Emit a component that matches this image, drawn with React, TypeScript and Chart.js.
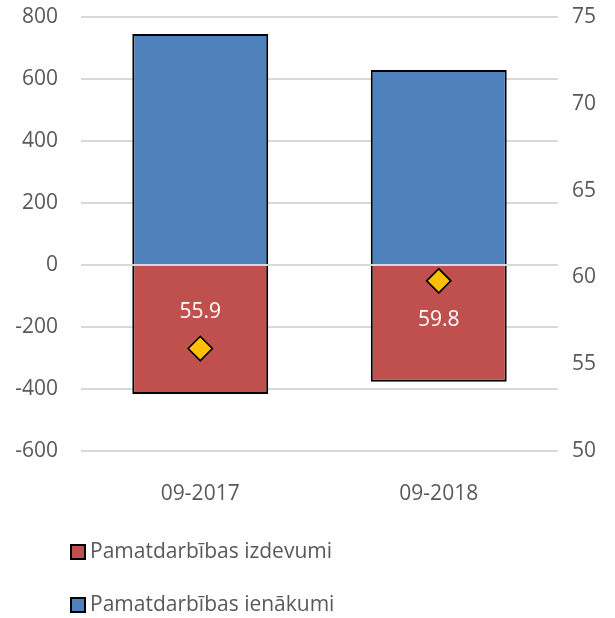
import React, { useEffect, useRef } from "react";
import { Chart, registerables } from "chart.js";

Chart.register(...registerables);

const categories = ["09-2017", "09-2018"];
const incomeLabel = "Pamatdarbības ienākumi";
const expensesLabel = "Pamatdarbības izdevumi";
const income = [745, 629];
const expenses = [-416, -377];
const ratio = [55.9, 59.8];
const leftAxis = { min: -600, max: 800, step: 200 };
const rightAxis = { min: 50, max: 75, step: 5 };

const FONT = "'Open Sans', sans-serif";
const FS = 21;
const TEXT = "#595959";
const GRID = "#D9D9D9";

const zeroLinePlugin = {
  id: "zeroLine",
  afterDatasetsDraw(chart: any) {
    const y = chart.scales.y.getPixelForValue(0);
    const { left, right } = chart.chartArea;
    const ctx = chart.ctx;
    ctx.save();
    ctx.strokeStyle = GRID;
    ctx.lineWidth = 2;
    ctx.beginPath();
    ctx.moveTo(left, y);
    ctx.lineTo(right, y);
    ctx.stroke();
    const lineIdx = chart.data.datasets.findIndex((d: any) => d.type === "line");
    if (lineIdx >= 0) {
      chart.getDatasetMeta(lineIdx).data.forEach((pt: any) => pt.draw(ctx, chart.chartArea));
    }
    ctx.restore();
  },
};

const valueLabelPlugin = {
  id: "valueLabels",
  afterDatasetsDraw(chart: any) {
    const ctx = chart.ctx;
    const lineIdx = chart.data.datasets.findIndex((d: any) => d.type === "line");
    const redIdx = chart.data.datasets.findIndex((d: any) => d.label === expensesLabel);
    const lineData = chart.data.datasets[lineIdx].data;
    const pts = chart.getDatasetMeta(lineIdx).data;
    const bars = chart.getDatasetMeta(redIdx).data;
    ctx.save();
    ctx.font = `${FS}px ${FONT}`;
    ctx.fillStyle = "#FFFFFF";
    ctx.textAlign = "center";
    ctx.textBaseline = "middle";
    bars.forEach((bar: any, i: number) => {
      const mid = (bar.y + bar.base) / 2;
      const py = pts[i].y;
      const ly = py > mid ? py - 37 : py + 39;
      ctx.fillText(lineData[i].toFixed(1), bar.x, ly);
    });
    ctx.restore();
  },
};

const legendPlugin = {
  id: "customLegend",
  afterDraw(chart: any) {
    const ctx = chart.ctx;
    const items = chart.data.datasets.filter((d: any) => d.type !== "line");
    const rows = [552, 605];
    ctx.save();
    ctx.font = `${FS}px ${FONT}`;
    ctx.textBaseline = "middle";
    ctx.textAlign = "left";
    items.forEach((d: any, i: number) => {
      const cy = rows[i];
      ctx.fillStyle = d.backgroundColor;
      ctx.fillRect(71, cy - 7, 14, 14);
      ctx.strokeStyle = "#000000";
      ctx.lineWidth = 2;
      ctx.strokeRect(71, cy - 7, 14, 14);
      ctx.fillStyle = TEXT;
      ctx.fillText(d.label, 90, cy);
    });
    ctx.restore();
  },
};

export default function App() {
  const ref = useRef<HTMLCanvasElement>(null);

  useEffect(() => {
    if (!ref.current) return;
    const chart = new Chart(ref.current, {
      type: "bar",
      data: {
        labels: categories,
        datasets: [
          {
            type: "bar",
            label: expensesLabel,
            data: expenses,
            backgroundColor: "#C0504D",
            borderColor: "#000000",
            borderWidth: 2,
            yAxisID: "y",
            order: 2,
          },
          {
            type: "bar",
            label: incomeLabel,
            data: income,
            backgroundColor: "#4F81BD",
            borderColor: "#000000",
            borderWidth: 2,
            yAxisID: "y",
            order: 2,
          },
          {
            type: "line",
            label: "ratio",
            data: ratio,
            yAxisID: "y1",
            showLine: false,
            pointStyle: "rectRot",
            pointRadius: 12,
            pointHoverRadius: 12,
            pointBackgroundColor: "#FFC000",
            pointBorderColor: "#000000",
            pointBorderWidth: 1.5,
            order: 0,
          } as any,
        ],
      },
      options: {
        animation: false,
        responsive: false,
        maintainAspectRatio: false,
        layout: { padding: { top: 17, bottom: 107, left: 0, right: 0 } },
        datasets: { bar: { categoryPercentage: 1, barPercentage: 0.57 } },
        plugins: {
          legend: { display: false },
          tooltip: { enabled: false },
        },
        scales: {
          x: {
            stacked: true,
            grid: { display: false, drawTicks: false },
            border: { display: false },
            ticks: { color: TEXT, font: { family: FONT, size: FS }, padding: 30 },
            afterFit: (s: any) => {
              s.height = 60;
              s.paddingLeft = 0;
              s.paddingRight = 0;
            },
          },
          y: {
            stacked: true,
            position: "left",
            min: leftAxis.min,
            max: leftAxis.max,
            ticks: {
              stepSize: leftAxis.step,
              color: TEXT,
              font: { family: FONT, size: FS },
              padding: 23,
            },
            grid: { color: GRID, lineWidth: 2, drawTicks: false },
            border: { display: false },
            afterFit: (s: any) => {
              s.width = 81;
              s.paddingTop = 0;
              s.paddingBottom = 0;
            },
          },
          y1: {
            position: "right",
            min: rightAxis.min,
            max: rightAxis.max,
            ticks: {
              stepSize: rightAxis.step,
              color: TEXT,
              font: { family: FONT, size: FS },
              padding: 14,
            },
            grid: { display: false, drawTicks: false },
            border: { display: false },
            afterFit: (s: any) => {
              s.width = 57;
              s.paddingTop = 0;
              s.paddingBottom = 0;
            },
          },
        },
      },
      plugins: [zeroLinePlugin, valueLabelPlugin, legendPlugin],
    });
    return () => chart.destroy();
  }, []);

  return (
    <div style={{ position: "fixed", left: 0, top: 0, width: 615, height: 618, background: "#fff" }}>
      <canvas ref={ref} width={615} height={618} style={{ width: 615, height: 618 }} />
    </div>
  );
}
